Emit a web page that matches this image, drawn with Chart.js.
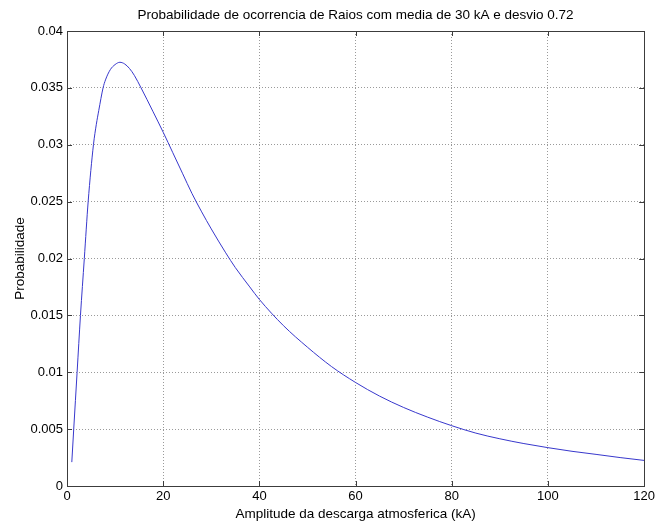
<!DOCTYPE html>
<html>
<head>
<meta charset="utf-8">
<title>Probabilidade de ocorrencia de Raios</title>
<script src="https://cdn.jsdelivr.net/npm/chart.js@4/dist/chart.umd.min.js"></script>
<style>
    html, body { margin: 0; padding: 0; background: #ffffff; }
    #wrap { width: 658px; height: 525px; position: relative; }
</style>
</head>
<body>
<div id="wrap"><canvas id="chartRaios"></canvas></div>
<script>
// Valori
const amplitude = [1, 1.4, 2.1, 2.8, 3.6, 4.4, 5.5, 6.1, 6.6, 7.5, 8, 9, 10, 11, 12, 13, 14, 15.4, 17.9, 20, 22, 24, 26, 28, 30, 33, 35, 38, 40, 45, 50, 55, 60, 65, 70, 75, 80, 85, 90, 95, 100, 105, 110, 115, 120];
const probabilidade = [0.0021, 0.0050, 0.0100, 0.0150, 0.0200, 0.0250, 0.0300, 0.0318, 0.0330, 0.0350, 0.0357, 0.0366, 0.03705, 0.03725, 0.0371, 0.0367, 0.0361, 0.0350, 0.0329, 0.0311, 0.0293, 0.0275, 0.0257, 0.0241, 0.0226, 0.0205, 0.0192, 0.0175, 0.0164, 0.0141, 0.0122, 0.0105, 0.0091, 0.0079, 0.0069, 0.00605, 0.0053, 0.00465, 0.00415, 0.00373, 0.00337, 0.00305, 0.00278, 0.0025, 0.00225];
const xTicks = [0, 20, 40, 60, 80, 100, 120];
const yTicks = [0, 0.005, 0.01, 0.015, 0.02, 0.025, 0.03, 0.035, 0.04];
const titolo = 'Probabilidade de ocorrencia de Raios com media de 30 kA e desvio 0.72';

const fontFamily = '"Liberation Sans", Arial, sans-serif';

// Titolo centrato sugli assi, box con tacche interne (stile MATLAB)
const boxPlugin = {
    id: 'boxPlugin',
    afterDraw(chart) {
        const { ctx, chartArea: a, scales } = chart;
        ctx.save();
        ctx.fillStyle = '#000000';
        ctx.font = '13.5px ' + fontFamily;
        ctx.textAlign = 'center';
        ctx.textBaseline = 'middle';
        ctx.fillText(titolo, (a.left + a.right) / 2, 15.5);

        ctx.strokeStyle = '#3c3c3c';
        ctx.lineWidth = 1;
        ctx.strokeRect(Math.round(a.left) + 0.5, Math.round(a.top) + 0.5,
            Math.round(a.right - a.left), Math.round(a.bottom - a.top));
        const len = 5;
        ctx.beginPath();
        xTicks.forEach(v => {
            const px = Math.round(scales.x.getPixelForValue(v)) + 0.5;
            ctx.moveTo(px, a.bottom); ctx.lineTo(px, a.bottom - len);
            ctx.moveTo(px, a.top); ctx.lineTo(px, a.top + len);
        });
        yTicks.forEach(v => {
            const py = Math.round(scales.y.getPixelForValue(v)) + 0.5;
            ctx.moveTo(a.left, py); ctx.lineTo(a.left + len, py);
            ctx.moveTo(a.right, py); ctx.lineTo(a.right - len, py);
        });
        ctx.stroke();
        ctx.restore();
    }
};

new Chart(document.getElementById('chartRaios'), {
    type: 'line',
    data: {
        datasets: [{
            data: amplitude.map((x, i) => ({ x: x, y: probabilidade[i] })),
            borderColor: '#3838cc',
            borderWidth: 1,
            pointRadius: 0,
            fill: false,
            cubicInterpolationMode: 'monotone'
        }]
    },
    options: {
        responsive: true,
        maintainAspectRatio: false,
        animation: false,
        layout: { padding: { top: 31, right: 12 } },
        plugins: {
            legend: { display: false },
            tooltip: { enabled: false },
            title: { display: false }
        },
        scales: {
            x: {
                type: 'linear',
                min: 0,
                max: 120,
                afterBuildTicks: scale => { scale.ticks = xTicks.map(v => ({ value: v })); },
                ticks: {
                    color: '#000000',
                    font: { family: fontFamily, size: 13 },
                    padding: 3,
                    maxRotation: 0
                },
                grid: {
                    color: '#9a9a9a',
                    lineWidth: 1,
                    drawTicks: false
                },
                border: { display: false, dash: [1, 2] },
                title: {
                    display: true,
                    text: 'Amplitude da descarga atmosferica (kA)',
                    color: '#000000',
                    font: { family: fontFamily, size: 13.5 },
                    padding: { top: 0, bottom: 3 }
                },
                afterFit: scale => { scale.height = 39; }
            },
            y: {
                type: 'linear',
                min: 0,
                max: 0.04,
                afterBuildTicks: scale => { scale.ticks = yTicks.map(v => ({ value: v })); },
                ticks: {
                    color: '#000000',
                    font: { family: fontFamily, size: 13 },
                    padding: 4,
                    callback: v => String(+v.toFixed(3))
                },
                grid: {
                    color: '#9a9a9a',
                    lineWidth: 1,
                    drawTicks: false
                },
                border: { display: false, dash: [1, 2] },
                title: {
                    display: true,
                    text: 'Probabilidade',
                    color: '#000000',
                    font: { family: fontFamily, size: 13.5 },
                    padding: { top: 12, bottom: 0 }
                },
                afterFit: scale => { scale.width = 67; }
            }
        }
    },
    plugins: [boxPlugin]
});
</script>
</body>
</html>
